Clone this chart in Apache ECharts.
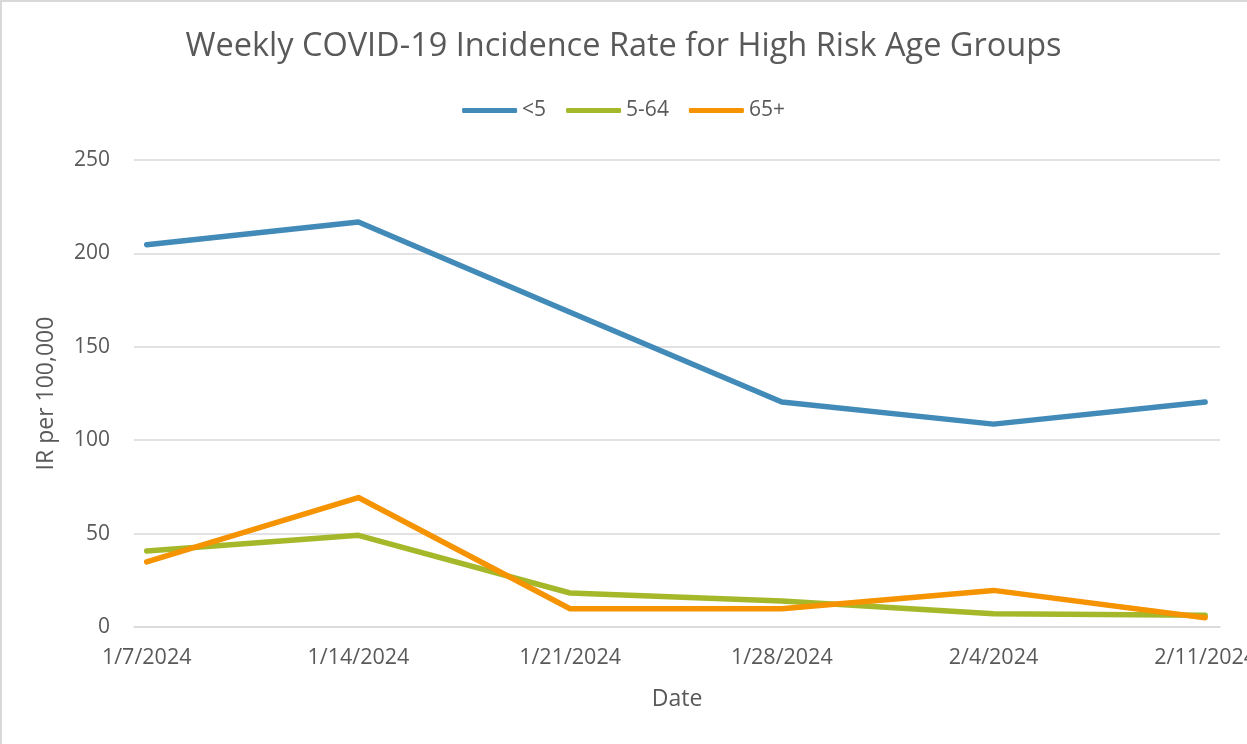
<!DOCTYPE html>
<html>
<head>
<meta charset="utf-8">
<script src="https://cdn.jsdelivr.net/npm/echarts@6/dist/echarts.min.js"></script>
<style>
  html, body { margin: 0; padding: 0; background: #fff; }
  #chart { width: 1247px; height: 744px; }
  #frame { position: absolute; left: 0; top: 0; width: 1247px; height: 744px; box-sizing: border-box;
           border-left: 2px solid #d9d9d9; border-top: 2px solid #d9d9d9; pointer-events: none; }
</style>
</head>
<body>
<div id="chart"></div>
<div id="frame"></div>
<script>
const dates = ['1/7/2024', '1/14/2024', '1/21/2024', '1/28/2024', '2/4/2024', '2/11/2024'];
const under5 = [204.6, 216.8, 168.5, 120.4, 108.6, 120.4];
const age5to64 = [40.7, 49.1, 18.2, 13.9, 7.1, 6.3];
const age65plus = [34.8, 69.3, 9.8, 9.8, 19.6, 5.0];

const FONT = '"Open Sans", "Noto Sans", sans-serif';
const TEXT = '#595959';
const GRIDLINE = '#d9d9d9';

const toPoints = vals => vals.map((v, i) => [i, v]);

const chart = echarts.init(document.getElementById('chart'), null, { renderer: 'canvas' });

const lineSeries = (name, vals, color) => ({
  name,
  type: 'line',
  data: toPoints(vals),
  showSymbol: false,
  symbol: 'none',
  lineStyle: { width: 5.5, color, cap: 'round', join: 'round' },
  itemStyle: { color },
});

chart.setOption({
  backgroundColor: '#fff',
  animation: false,
  textStyle: { fontFamily: FONT },
  title: {
    text: 'Weekly COVID-19 Incidence Rate for High Risk Age Groups',
    left: 'center',
    top: 25,
    textStyle: { fontFamily: FONT, fontSize: 32.5, fontWeight: 'normal', color: TEXT },
  },
  legend: {
    top: 95,
    left: 'center',
    itemWidth: 55,
    itemHeight: 5,
    itemGap: 20,
    icon: 'roundRect',
    textStyle: { fontFamily: FONT, fontSize: 21, color: TEXT },
    data: ['<5', '5-64', '65+'],
  },
  grid: { left: 134, right: 27, top: 160, bottom: 117, outerBoundsMode: 'none', containLabel: false },
  xAxis: {
    type: 'value',
    min: -0.06,
    max: 5.07,
    name: 'Date',
    nameLocation: 'middle',
    nameGap: 61,
    nameTextStyle: { fontFamily: FONT, fontSize: 23, color: TEXT },
    axisLine: { show: true, onZero: true, lineStyle: { color: GRIDLINE, width: 1.5 } },
    axisTick: { show: false },
    splitLine: { show: false },
    axisLabel: {
      customValues: [0, 1, 2, 3, 4, 5],
      formatter: v => dates[Math.round(v)],
      margin: 20,
      fontFamily: FONT,
      fontSize: 21.5,
      color: TEXT,
    },
  },
  yAxis: {
    type: 'value',
    min: 0,
    max: 250,
    interval: 50,
    name: 'IR per 100,000',
    nameLocation: 'middle',
    nameGap: 76,
    nameTextStyle: { fontFamily: FONT, fontSize: 23, color: TEXT },
    axisLine: { show: false },
    axisTick: { show: false },
    splitLine: { lineStyle: { color: GRIDLINE, width: 1.5 } },
    axisLabel: { margin: 24, fontFamily: FONT, fontSize: 21, color: TEXT },
  },
  series: [
    lineSeries('<5', under5, '#428bb9'),
    lineSeries('5-64', age5to64, '#a5b82a'),
    lineSeries('65+', age65plus, '#f59300'),
  ],
});
</script>
</body>
</html>
